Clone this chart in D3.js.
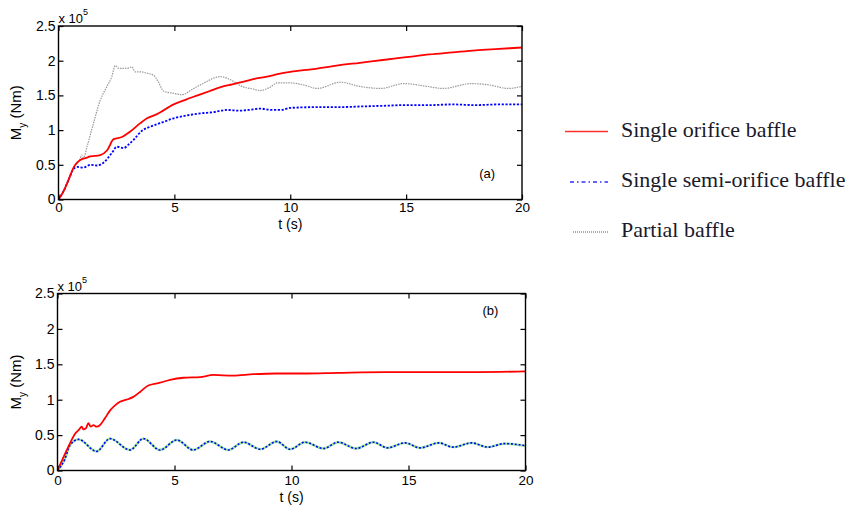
<!DOCTYPE html>
<html><head><meta charset="utf-8">
<script src="https://cdn.jsdelivr.net/npm/d3@7"></script>
<style>body{margin:0;background:#fff}svg{display:block}</style>
</head><body>
<svg id="c" width="851" height="507"></svg>
<script>
// ---- data (values in units of 1e5 Nm) ----
const xTicks = [0, 5, 10, 15, 20];
const yTicks = [0, 0.5, 1, 1.5, 2, 2.5];
const yTickLabels = ["0", "0.5", "1", "1.5", "2", "2.5"];
const legendLabels = ["Single orifice baffle", "Single semi-orifice baffle", "Partial baffle"];

const orificeA = [[0,0],[0.22,0.12],[0.43,0.28],[0.65,0.46],[0.8,0.53],[0.94,0.57],[1.2,0.6],[1.37,0.62],[1.8,0.64],[2.1,0.71],[2.38,0.87],[2.74,0.9],[3.1,0.98],[3.53,1.1],[3.82,1.17],[4.25,1.23],[4.97,1.37],[5.5,1.44],[6,1.5],[6.5,1.56],[7,1.62],[7.5,1.66],[8,1.7],[8.5,1.74],[9,1.77],[9.5,1.81],[10,1.84],[11,1.88],[12,1.93],[13,1.97],[14,2.01],[15,2.05],[16,2.09],[17,2.12],[18,2.15],[19,2.17],[20,2.19]];
const semiA = [[0,0],[0.22,0.12],[0.43,0.28],[0.65,0.44],[0.8,0.47],[1.08,0.46],[1.37,0.5],[1.66,0.49],[1.94,0.53],[2.3,0.67],[2.52,0.76],[2.8,0.74],[3.02,0.79],[3.24,0.86],[3.6,0.99],[3.96,1.05],[4.39,1.1],[4.97,1.17],[5.69,1.22],[6.12,1.24],[6.7,1.26],[7.27,1.29],[7.8,1.28],[8.2,1.29],[8.71,1.31],[9.2,1.29],[9.6,1.29],[10,1.32],[11,1.33],[12,1.33],[13,1.34],[14,1.35],[15,1.36],[16,1.36],[17,1.37],[18,1.36],[19,1.37],[20,1.37]];
const partialA = [[0,0],[0.22,0.12],[0.43,0.28],[0.65,0.46],[0.8,0.52],[0.94,0.59],[1.0,0.64],[1.08,0.6],[1.23,0.76],[1.51,1.1],[1.8,1.43],[2.09,1.63],[2.3,1.77],[2.45,1.93],[2.6,1.89],[2.95,1.89],[3.17,1.91],[3.31,1.84],[3.53,1.84],[3.82,1.82],[4.1,1.79],[4.3,1.7],[4.54,1.56],[4.97,1.53],[5.33,1.51],[5.83,1.6],[6.4,1.7],[6.7,1.75],[6.98,1.77],[7.56,1.7],[7.85,1.64],[8.42,1.59],[8.7,1.57],[9.14,1.62],[9.43,1.68],[10,1.68],[10.58,1.65],[11.16,1.6],[12.17,1.69],[13,1.63],[13.9,1.6],[14.9,1.67],[15.9,1.63],[16.6,1.6],[17.8,1.67],[18.6,1.65],[19.4,1.6],[20,1.63]];

const orificeB = [[0,0],[0.4,0.29],[0.6,0.43],[0.75,0.52],[0.9,0.57],[1.04,0.62],[1.1,0.58],[1.22,0.6],[1.32,0.67],[1.42,0.62],[1.54,0.64],[1.67,0.62],[1.81,0.64],[2.03,0.74],[2.25,0.85],[2.46,0.92],[2.67,0.97],[2.95,1.0],[3.24,1.04],[3.53,1.11],[3.88,1.2],[4.38,1.24],[4.81,1.28],[5.38,1.31],[6.1,1.32],[6.66,1.35],[7.5,1.34],[8.37,1.36],[9.37,1.37],[10.5,1.37],[12,1.38],[14,1.39],[16,1.39],[18,1.39],[20,1.4]];
const semiB = [[0,0],[0.3,0.15],[0.54,0.36],[0.9,0.44],[1.67,0.27],[2.24,0.45],[3.1,0.29],[3.67,0.45],[4.38,0.29],[5.1,0.43],[5.8,0.29],[6.52,0.41],[7.3,0.29],[7.95,0.4],[8.67,0.3],[9.37,0.41],[9.94,0.3],[10.58,0.4],[11.36,0.31],[12.0,0.4],[12.76,0.31],[13.5,0.4],[14.1,0.32],[14.85,0.39],[15.5,0.32],[16.3,0.39],[16.9,0.33],[17.7,0.39],[18.4,0.33],[19.1,0.38],[20,0.35]];
const partialB = semiB;

const svg = d3.select("#c");
const sans = "'Liberation Sans', Arial, sans-serif";

function panel(box, series, tag) {
  const x = d3.scaleLinear().domain([0, 20]).range([box.x0, box.x1]);
  const y = d3.scaleLinear().domain([0, 2.5]).range([box.y1, box.y0]);
  const g = svg.append("g");
  const line = d3.line().x(d => x(d[0])).y(d => y(d[1])).curve(d3.curveMonotoneX);
  const clip = "clip" + tag.replace(/[()]/g, "");
  g.append("clipPath").attr("id", clip).append("rect")
    .attr("x", box.x0).attr("y", box.y0).attr("width", box.x1 - box.x0).attr("height", box.y1 - box.y0);
  const lg = g.append("g").attr("clip-path", `url(#${clip})`);
  series.forEach(s => {
    lg.append("path").datum(s.data).attr("d", line).attr("fill", "none")
      .attr("stroke", s.color).attr("stroke-width", s.width)
      .attr("stroke-dasharray", s.dash || null).attr("stroke-linejoin", "round");
  });
  const fmt = (d) => yTickLabels[yTicks.indexOf(d)];
  const ax = g.append("g").attr("transform", `translate(0,${box.y1})`)
    .call(d3.axisBottom(x).tickValues(xTicks).tickSizeInner(-5).tickSizeOuter(0).tickPadding(box.xPad));
  const axT = g.append("g").attr("transform", `translate(0,${box.y0})`)
    .call(d3.axisTop(x).tickValues(xTicks).tickSizeInner(-5).tickSizeOuter(0).tickFormat(""));
  const ay = g.append("g").attr("transform", `translate(${box.x0},0)`)
    .call(d3.axisLeft(y).tickValues(yTicks).tickSizeInner(-5).tickSizeOuter(0).tickPadding(3).tickFormat(fmt));
  const ayR = g.append("g").attr("transform", `translate(${box.x1},0)`)
    .call(d3.axisRight(y).tickValues(yTicks).tickSizeInner(-5).tickSizeOuter(0).tickFormat(""));
  [ax, axT, ay, ayR].forEach(a => {
    a.select(".domain").remove();
    a.selectAll("line").attr("stroke", "#000").attr("stroke-width", 1.2);
    a.selectAll("text").attr("font-family", sans).attr("font-size", 14).attr("fill", "#000");
  });
  ax.selectAll("text").attr("font-size", 13.5);
  g.append("rect").attr("x", box.x0).attr("y", box.y0).attr("width", box.x1 - box.x0).attr("height", box.y1 - box.y0)
    .attr("fill", "none").attr("stroke", "#000").attr("stroke-width", 1.4);
  const m = g.append("text").attr("x", box.x0).attr("y", box.y0 - 3).attr("font-family", sans).attr("font-size", 13).attr("fill", "#000");
  m.append("tspan").text("x 10");
  m.append("tspan").attr("font-size", 9).attr("dy", -8).text("5");
  const yl = g.append("text").attr("transform", `translate(21,${(box.y0 + box.y1) / 2}) rotate(-90)`)
    .attr("text-anchor", "middle").attr("font-family", sans).attr("font-size", 15).attr("fill", "#000");
  yl.append("tspan").text("M");
  yl.append("tspan").attr("font-size", 10).attr("dy", 5).text("y");
  yl.append("tspan").attr("dy", -5).text(" (Nm)");
  g.append("text").attr("x", x(10)).attr("y", box.y1 + box.tOff).attr("text-anchor", "middle")
    .attr("font-family", sans).attr("font-size", 14).attr("fill", "#000").text("t (s)");
  g.append("text").attr("x", x(18.5)).attr("y", box.tagY).attr("text-anchor", "middle")
    .attr("font-family", sans).attr("font-size", 13).attr("fill", "#000").text(tag);
}

panel({x0: 58.5, x1: 522, y0: 26, y1: 199.5, xPad: 3, tOff: 29, tagY: 178}, [
  {data: partialA, color: "#9a9a9a", width: 1.2, dash: "1.5,1"},
  {data: semiA, color: "#0000ff", width: 1.8, dash: "2.2,1.6"},
  {data: orificeA, color: "#ff0000", width: 1.8}
], "(a)");

panel({x0: 57.5, x1: 525.5, y0: 293.5, y1: 470.5, xPad: 5, tOff: 31.5, tagY: 315}, [
  {data: partialB, color: "#9be89b", width: 2.4},
  {data: semiB, color: "#0000ff", width: 1.6, dash: "2,1.8"},
  {data: orificeB, color: "#ff0000", width: 1.8}
], "(b)");

const legendStyles = [
  {color: "#ff3030", width: 1.4, dash: null, x0: 565, y: 131.5},
  {color: "#3030ff", width: 1.4, dash: "4,3,1.5,3", x0: 570, y: 182},
  {color: "#555", width: 1, dash: "1,1", x0: 573, y: 232}
];
const lgd = svg.append("g");
legendLabels.forEach((lab, i) => {
  const s = legendStyles[i];
  lgd.append("line").attr("x1", s.x0).attr("x2", 608).attr("y1", s.y).attr("y2", s.y)
    .attr("stroke", s.color).attr("stroke-width", s.width).attr("stroke-dasharray", s.dash);
  lgd.append("text").attr("x", 621).attr("y", s.y + 5).attr("font-family", "'Liberation Serif', 'Times New Roman', serif")
    .attr("font-size", 22).attr("fill", "#1a1a2a").text(lab);
});
</script>
</body></html>
